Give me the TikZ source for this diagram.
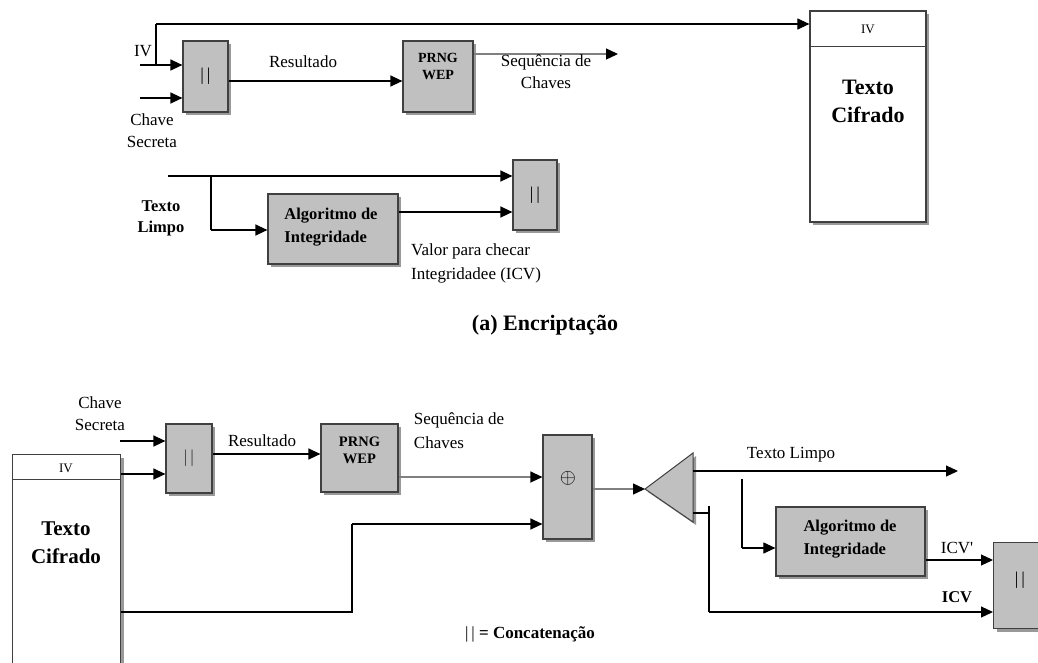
\documentclass[tikz,border=0pt]{standalone}
\usepackage{fontspec}
\setmainfont{Liberation Serif}
\usetikzlibrary{arrows.meta,shadows}
\definecolor{boxgray}{HTML}{C0C0C0}
\definecolor{edgegray}{HTML}{404040}
\definecolor{linegray}{HTML}{808080}
\newcommand{\concat}{|\hspace{3pt}|}
\tikzset{
  gbox/.style={draw=edgegray, line width=1.2pt, fill=boxgray, minimum width=#1, inner sep=0pt,
    drop shadow={shadow xshift=3pt, shadow yshift=-3pt, fill=gray!80, opacity=1}},
  wbox/.style={draw=edgegray, line width=1.2pt, fill=white,
    drop shadow={shadow xshift=3pt, shadow yshift=-3pt, fill=gray!80, opacity=1}},
  conn/.style={line width=1.3pt, -{Triangle[length=12pt,width=11pt,color=black]}},
  plain/.style={line width=1.1pt},
  cc/.style={font=\fontsize{18}{18}\selectfont, inner sep=0pt},
  lbl/.style={font=\fontsize{17}{22}\selectfont, align=center, inner sep=0pt},
  blbl/.style={font=\fontsize{16.5}{21}\selectfont\bfseries, align=center, inner sep=0pt},
  llbl/.style={font=\fontsize{17}{24}\selectfont, align=left, inner sep=0pt},
  bllbl/.style={font=\fontsize{16.5}{23}\selectfont\bfseries, align=left, inner sep=0pt},
}
\begin{document}
\begin{tikzpicture}[x=1pt,y=-1pt]
\clip (0,0) rectangle (1038,662);
\fill[white] (0,0) rectangle (1038,662);

% ===================== (a) Encriptacao =====================
\node[gbox=45pt, minimum height=71pt] (c1) at (205.5,76.5) {};
\node[cc] (c1t) at (c1.center) {\concat};
\node[gbox=70pt, minimum height=71pt] (p1) at (438,76.5) {};
\node[font=\fontsize{14}{17}\selectfont\bfseries, align=center, inner sep=0pt] (p1t) at (438,66) {PRNG\\WEP};

\node[wbox, minimum width=116pt, minimum height=211pt, inner sep=0pt] (cf1) at (868,116.5) {};
\draw[edgegray, line width=1pt] (810,46) coordinate (cf1l) -- (926,46) coordinate (cf1r);
\node[font=\fontsize{13}{13}\selectfont] (cf1iv) at (868,29) {IV};
\node[font=\fontsize{22}{28}\selectfont\bfseries, align=center, inner sep=0pt] (cf1t) at (868,101) {Texto\\Cifrado};

\node[gbox=130pt, minimum height=70pt] (a1) at (333,229) {};
\node[bllbl] (a1t) at (331,227) {Algoritmo de\\Integridade};
\node[gbox=44pt, minimum height=70pt] (c2) at (535,195) {};
\node[cc] (c2t) at (c2.center) {\concat};

% inputs
\coordinate (ivin) at (140,65);
\coordinate (ivj) at (156,65);
\coordinate (ivtop) at (156,24);
\coordinate (chin) at (140,98);
\node[lbl] (ivl) at (143,51) {IV};
\node[lbl] (chl) at (152,131) {Chave\\Secreta};

\draw[conn] (ivin) -- (c1.west |- ivin);
\draw[plain] (ivj) -- (ivtop);
\draw[conn, line width=1.1pt] (ivtop) -- (cf1.west |- ivtop);
\draw[conn] (chin) -- (c1.west |- chin);

\draw[conn] (c1.east |- 0,81) -- (p1.west |- 0,81);
\node[lbl] (res1) at (303,62) {Resultado};

\coordinate (seqend) at (618,54);
\draw[conn, linegray] (p1.east |- seqend) -- (seqend);
\node[lbl] (seq1) at (546,72) {Sequência de\\Chaves};

% plaintext part
\coordinate (tlin) at (168,176);
\coordinate (tlj) at (211,176);
\node[blbl] (tl1) at (161,218) {Texto\\Limpo};
\draw[conn] (tlin) -- (c2.west |- tlin);
\draw[plain] (tlj) -- (211,230) coordinate (tlk);
\draw[conn] (tlk) -- (a1.west |- tlk);
\draw[conn] (a1.east |- 0,212) -- (c2.west |- 0,212);
\node[llbl] (icv1) at (476,263) {Valor para checar\\Integridadee (ICV)};

\node[font=\fontsize{22}{22}\selectfont\bfseries] (cap1) at (545,325) {(a) Encriptação};

% ===================== Decriptacao =====================
\node[gbox=46pt, minimum height=69pt] (c3) at (189,458.5) {};
\node[cc, text=edgegray] (c3t) at (c3.center) {\concat};
\node[gbox=77pt, minimum height=68pt] (p2) at (359.5,458) {};
\node[font=\fontsize{14.5}{17}\selectfont\bfseries, align=center, inner sep=0pt] (p2t) at (359.5,450) {PRNG\\WEP};
\node[gbox=49pt, minimum height=104pt] (x1) at (567.5,487) {};
\node[font=\fontsize{20}{20}\selectfont] (x1t) at (568,478) {$\oplus$};

\node[wbox, minimum width=108pt, minimum height=240pt, inner sep=0pt, anchor=north west] (cf2) at (12,454) {};
\draw[edgegray, line width=1pt] (12,479) coordinate (cf2l) -- (120,479) coordinate (cf2r);
\node[font=\fontsize{13}{13}\selectfont] (cf2iv) at (66,468) {IV};
\node[font=\fontsize{21}{28}\selectfont\bfseries, align=center, inner sep=0pt] (cf2t) at (66,543) {Texto\\Cifrado};

\node[lbl] (chl2) at (100,414) {Chave\\Secreta};
\coordinate (ch2in) at (120,441);
\draw[conn] (ch2in) -- (c3.west |- ch2in);
\draw[conn] (cf2.east |- 0,474) -- (c3.west |- 0,474);
\draw[conn] (c3.east |- 0,454) -- (p2.west |- 0,454);
\node[lbl] (res2) at (262,441) {Resultado};
\node[llbl] (seq2) at (459,431) {Sequência de\\Chaves};
\draw[conn, linegray] (p2.east |- 0,477) -- (x1.west |- 0,477);
\draw[line width=1.3pt] (cf2.east |- 0,612) -- (352,612) -- (352,524) coordinate (bend);
\draw[conn] (bend) -- (x1.west |- bend);

% splitter triangle
\coordinate (tip) at (645,489);
\coordinate (ttop) at (693,453);
\coordinate (tbot) at (693,522);
\fill[gray!80] ([shift={(3,3)}]tip) -- ([shift={(3,3)}]ttop) -- ([shift={(3,3)}]tbot) -- cycle;
\filldraw[fill=boxgray, draw=edgegray, line width=1pt] (tip) -- (ttop) -- (tbot) -- cycle;
\draw[conn, linegray] (x1.east |- tip) -- (tip);

\coordinate (tlout) at (958,471);
\draw[conn, line width=1.1pt] (693,471) -- (tlout);
\node[lbl] (tl2) at (791,455) {Texto Limpo};

\node[gbox=149pt, minimum height=69pt] (a2) at (850.5,541.5) {};
\node[bllbl] (a2t) at (850,539) {Algoritmo de\\Integridade};
\node[gbox=52pt, minimum height=86pt, anchor=north west] (c4) at (993,542) {};
\node[cc] (c4t) at (1020,580) {\concat};

\draw[plain] (742,479) -- (742,548) coordinate (br2);
\draw[conn, line width=1.1pt] (br2) -- (a2.west |- br2);
\draw[conn, line width=1.1pt] (a2.east |- 0,560) -- (c4.west |- 0,560);
\node[lbl] (icvp) at (957,548) {ICV\textquotesingle};

\draw[plain] (693,513) -- (709,513);
\draw[plain] (709,506) -- (709,612) coordinate (icvb);
\draw[conn, line width=1.1pt] (icvb) -- (c4.west |- icvb);
\node[blbl] (icv2) at (957,597) {ICV};

\node[font=\fontsize{17}{17}\selectfont\bfseries] (cap2) at (530,634) {{\mdseries\concat} =~Concatenação};
\end{tikzpicture}
\end{document}
